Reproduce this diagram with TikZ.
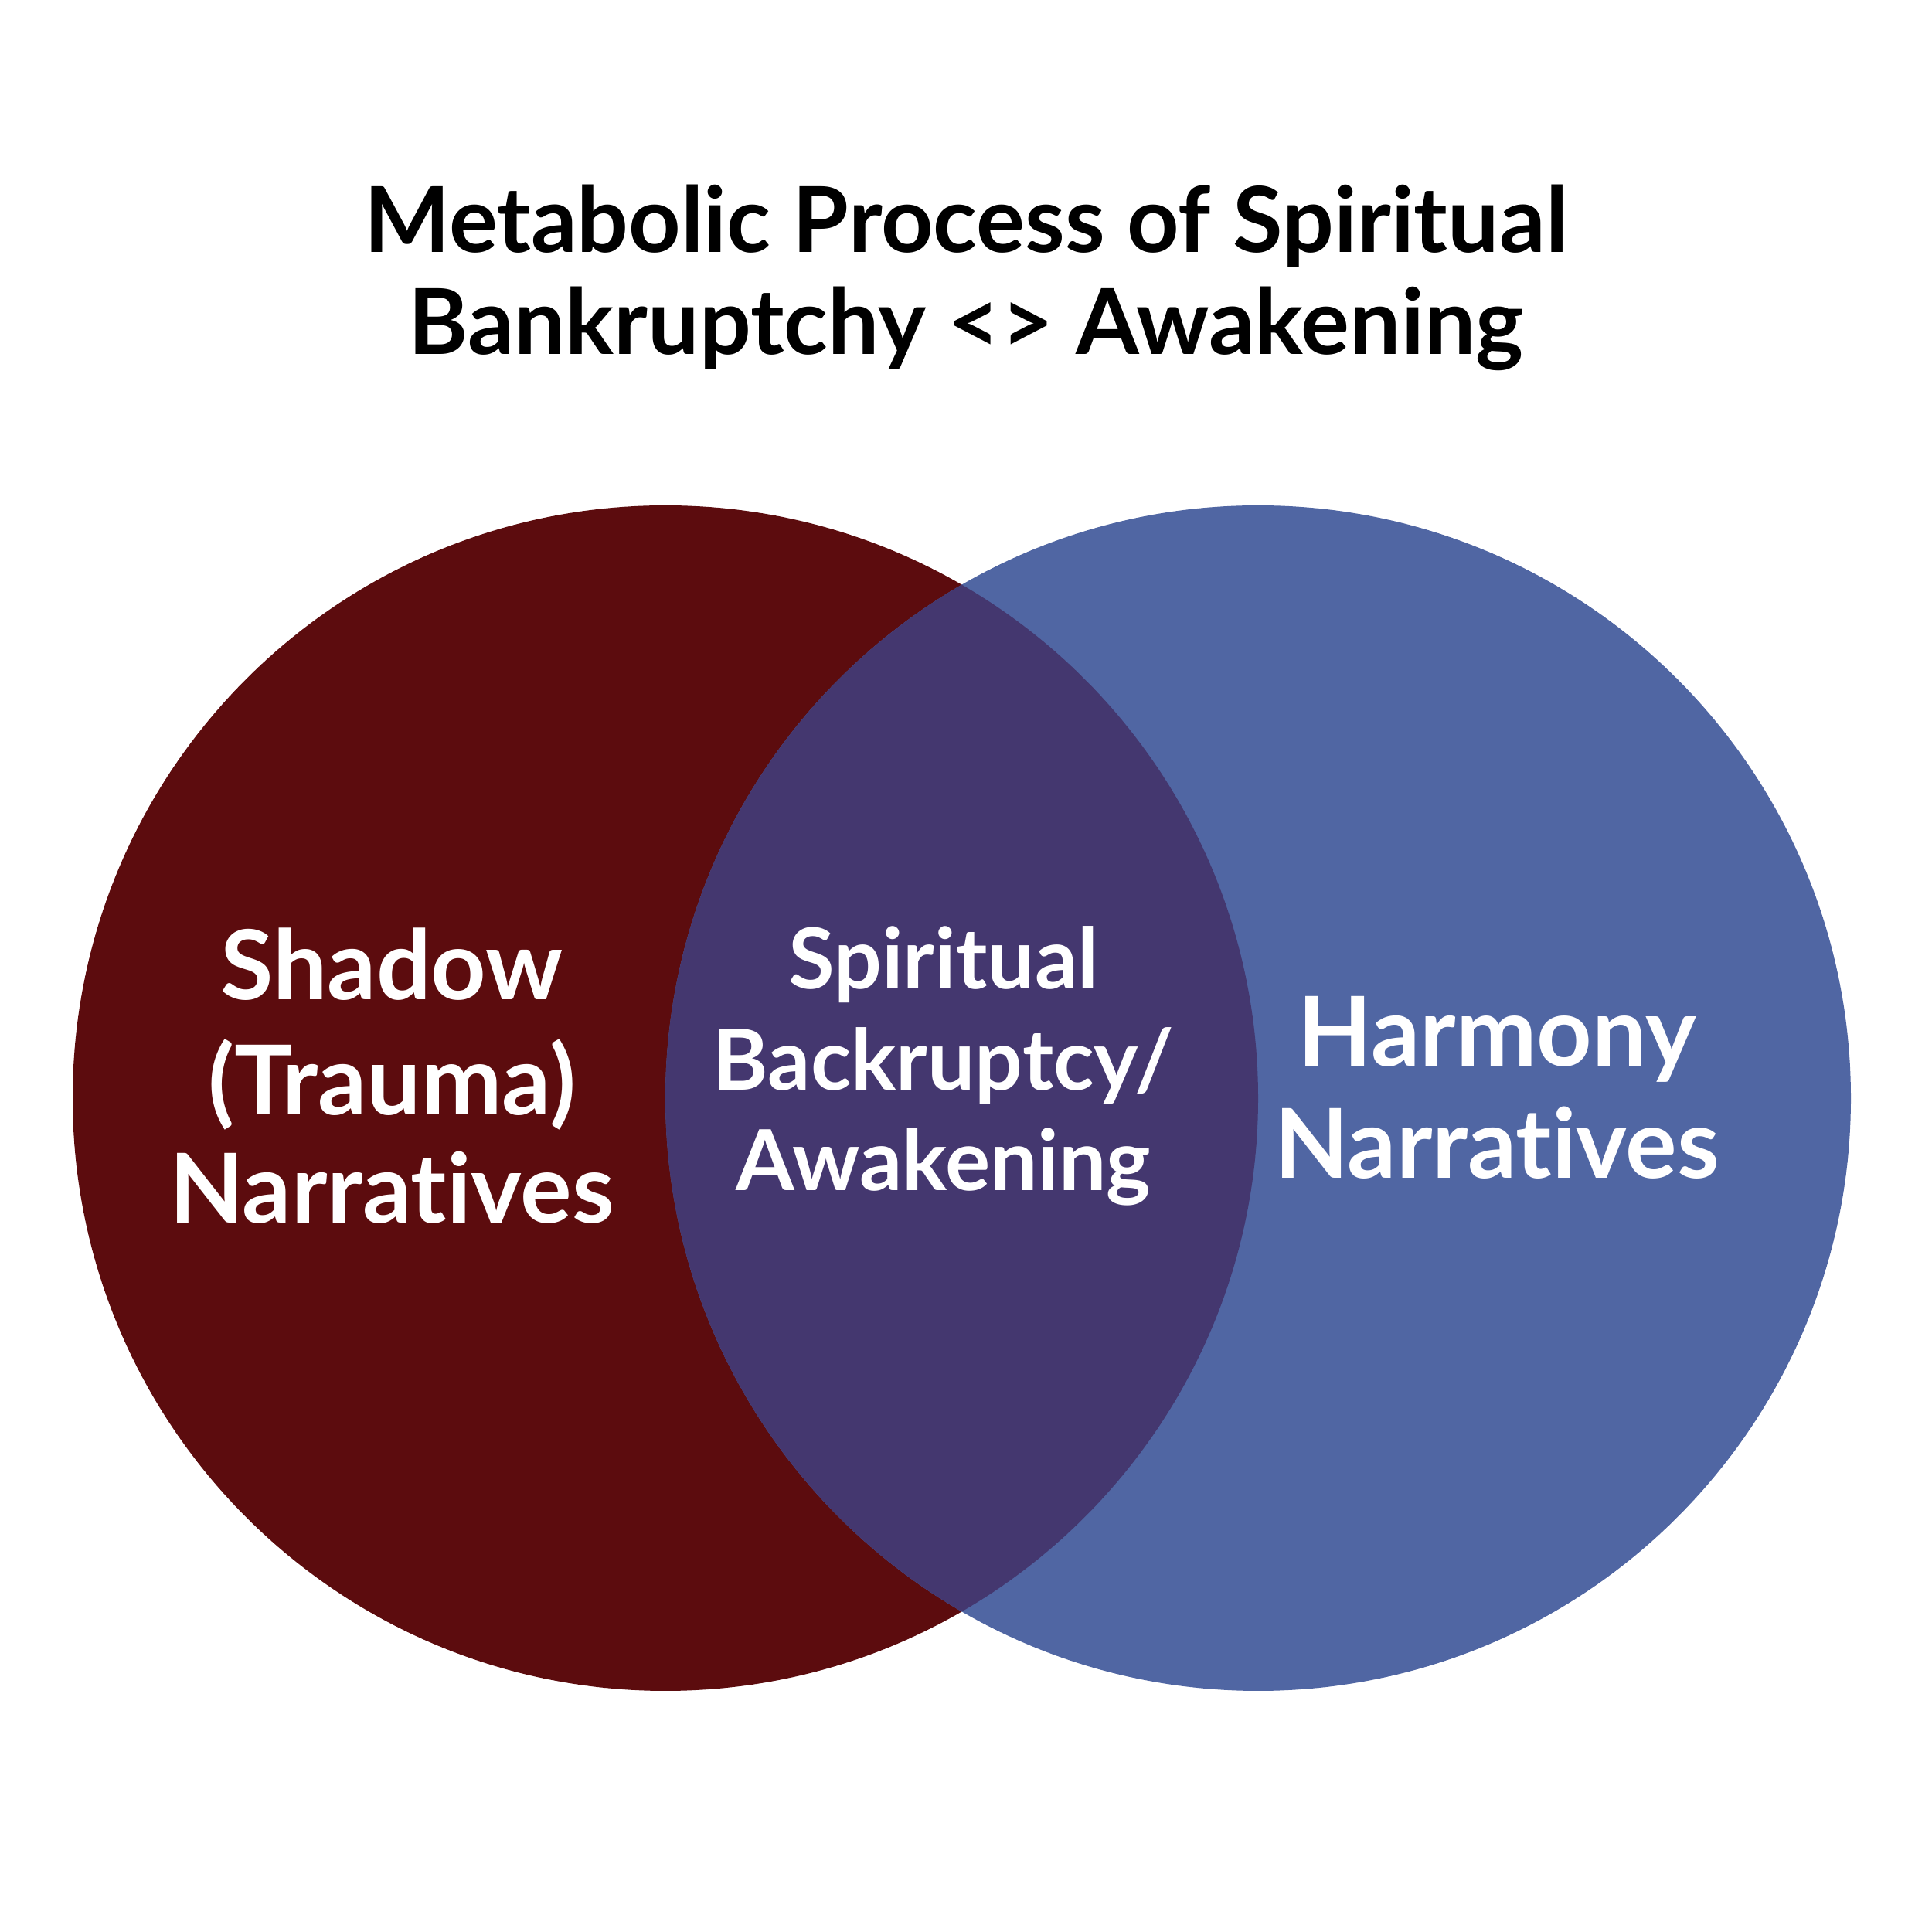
\documentclass[tikz,border=0pt]{standalone}
\usepackage{fontspec}
\setmainfont{Lato}[UprightFont=* Bold, Ligatures=NoCommon]
\definecolor{redc}{HTML}{5C0C0E}
\definecolor{bluec}{HTML}{5066A3}
\definecolor{midc}{HTML}{44376F}
\tikzset{
  title/.style={anchor=base, font=\fontsize{33.5}{40}\selectfont, text=black, inner sep=0pt},
  big/.style={anchor=base, font=\fontsize{35.5}{42}\selectfont, text=white, inner sep=0pt},
  mid/.style={anchor=base, font=\fontsize{31}{37}\selectfont, text=white, inner sep=0pt}
}
\begin{document}
\begin{tikzpicture}
\useasboundingbox (0,0) rectangle (25,25);
\fill[white] (0,0) rectangle (25,25);
\fill[redc] (8.61,10.79) circle (7.67);
\fill[bluec] (16.28,10.79) circle (7.67);
\begin{scope}
\clip (8.61,10.79) circle (7.67);
\fill[midc] (16.28,10.79) circle (7.67);
\end{scope}
\node[title] (t1) at (12.5,21.73) {Metabolic Process of Spiritual};
\node[title] (t2) at (12.5,20.41) {Bankruptchy <> Awakening};
\node[big] (l1) at (5.07,12.06) {Shadow};
\node[big] (l2) at (5.07,10.57) {(Trauma)};
\node[big] (l3) at (5.07,9.17) {Narratives};
\node[mid] (c1) at (12.21,12.20) {Spiritual};
\node[mid] (c2) at (12.21,10.89) {Backruptcy/};
\node[mid] (c3) at (12.21,9.59) {Awakening};
\node[big] (r1) at (19.37,11.20) {Harmony};
\node[big] (r2) at (19.37,9.75) {Narratives};
\end{tikzpicture}
\end{document}
